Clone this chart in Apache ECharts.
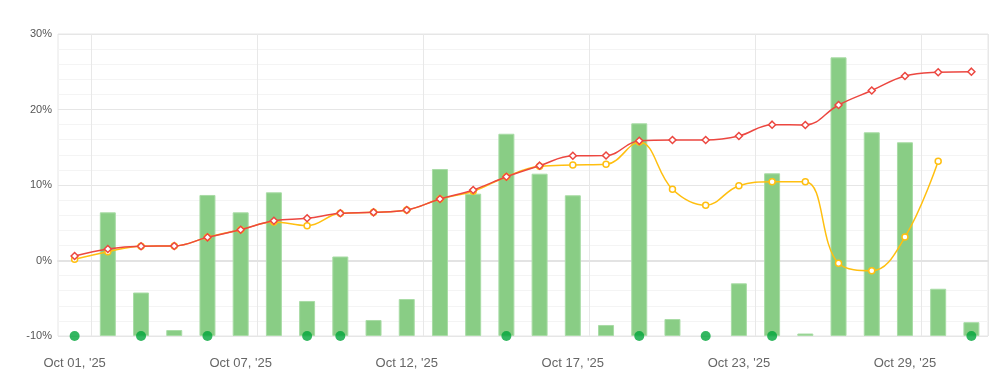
<!DOCTYPE html>
<html>
<head>
<meta charset="utf-8">
<script src="https://cdn.jsdelivr.net/npm/echarts@6/dist/echarts.min.js"></script>
<style>
  html, body { margin: 0; padding: 0; background: #fff; }
  #chart { width: 1003px; height: 386px; }
</style>
</head>
<body>
<div id="chart"></div>
<script>
const categories = ["Oct 01, '25","Oct 02, '25","Oct 03, '25","Oct 05, '25","Oct 06, '25","Oct 07, '25","Oct 08, '25","Oct 09, '25","Oct 10, '25","Oct 11, '25","Oct 12, '25","Oct 13, '25","Oct 14, '25","Oct 15, '25","Oct 16, '25","Oct 17, '25","Oct 19, '25","Oct 20, '25","Oct 21, '25","Oct 22, '25","Oct 23, '25","Oct 24, '25","Oct 26, '25","Oct 27, '25","Oct 28, '25","Oct 29, '25","Oct 30, '25","Oct 31, '25"];

// bar heights measured from the -10% baseline (hidden 0..40 axis)
const barValues = [null,16.38,5.76,0.79,18.68,16.38,19.03,4.64,10.53,2.12,4.9,22.12,18.85,26.79,21.5,18.64,1.46,28.17,2.25,null,6.98,21.55,0.33,36.91,26.98,25.66,6.26,1.83];

const redValues = [0.6,1.52,1.89,1.92,3.07,4.08,5.27,5.59,6.25,6.38,6.69,8.15,9.34,11.1,12.56,13.88,13.9,15.85,15.96,15.96,16.49,17.99,17.95,20.6,22.52,24.44,24.93,25.01];

const yellowValues = [0.16,1.17,1.89,1.92,3.07,4.08,5.1,4.61,6.25,6.38,6.69,8.15,9.17,11.1,12.48,12.65,12.74,15.7,9.43,7.31,9.91,10.44,10.44,-0.37,-1.35,3.11,13.14,null];

const dotValues = [-10,null,-10,null,-10,null,null,-10,-10,null,null,null,null,-10,null,null,null,-10,null,-10,null,-10,null,null,null,null,null,-10];

const yTicks = { min: -10, max: 30, interval: 10 };

const chart = echarts.init(document.getElementById('chart'));
chart.setOption({
  animation: false,
  grid: { left: 58, right: 15, top: 34, bottom: 50, show: true, borderColor: '#e6e6e6', borderWidth: 1 },
  xAxis: {
    type: 'category',
    data: categories,
    boundaryGap: true,
    axisLine: { show: true, lineStyle: { color: '#e3e3e3', width: 2 } },
    axisTick: { show: false },
    axisLabel: { interval: 4, color: '#666', fontSize: 13, margin: 21, fontFamily: 'Liberation Sans, Arial, sans-serif' },
    splitLine: { show: true, interval: function (i) { return i % 5 === 1; }, lineStyle: { color: '#e8e8e8', width: 1 } }
  },
  yAxis: [{
    type: 'value',
    min: yTicks.min, max: yTicks.max, interval: yTicks.interval,
    axisLine: { show: false },
    axisTick: { show: false },
    axisLabel: { formatter: '{value}%', color: '#555', fontSize: 11, margin: 6, fontFamily: 'Liberation Sans, Arial, sans-serif' },
    splitLine: { show: true, lineStyle: { color: '#e6e6e6', width: 1 } },
    minorTick: { show: false, splitNumber: 5 },
    minorSplitLine: { show: true, lineStyle: { color: '#f4f4f4', width: 1 } }
  }, {
    type: 'value', min: 0, max: 40, show: false
  }],
  series: [{
    type: 'bar',
    yAxisIndex: 1,
    data: barValues,
    barWidth: 16,
    itemStyle: { color: '#89cd85', borderColor: '#a9dca6', borderWidth: 1 },
    z: 1
  }, {
    type: 'scatter',
    data: dotValues,
    symbol: 'circle',
    symbolSize: 10,
    itemStyle: { color: '#00a53a' },
    clip: false,
    z: 3
  }, {
    type: 'line',
    data: yellowValues,
    smooth: 0.4,
    symbol: 'circle',
    symbolSize: 6,
    showSymbol: true,
    lineStyle: { color: '#ffbf10', width: 1.5 },
    itemStyle: { color: '#fff', borderColor: '#ffbf10', borderWidth: 1.5 },
    z: 4
  }, {
    type: 'line',
    data: redValues,
    smooth: 0.4,
    symbol: 'diamond',
    symbolSize: 7,
    showSymbol: true,
    lineStyle: { color: '#ec4740', width: 1.5 },
    itemStyle: { color: '#fff', borderColor: '#ec4740', borderWidth: 1.5 },
    z: 5
  }]
});
</script>
</body>
</html>
